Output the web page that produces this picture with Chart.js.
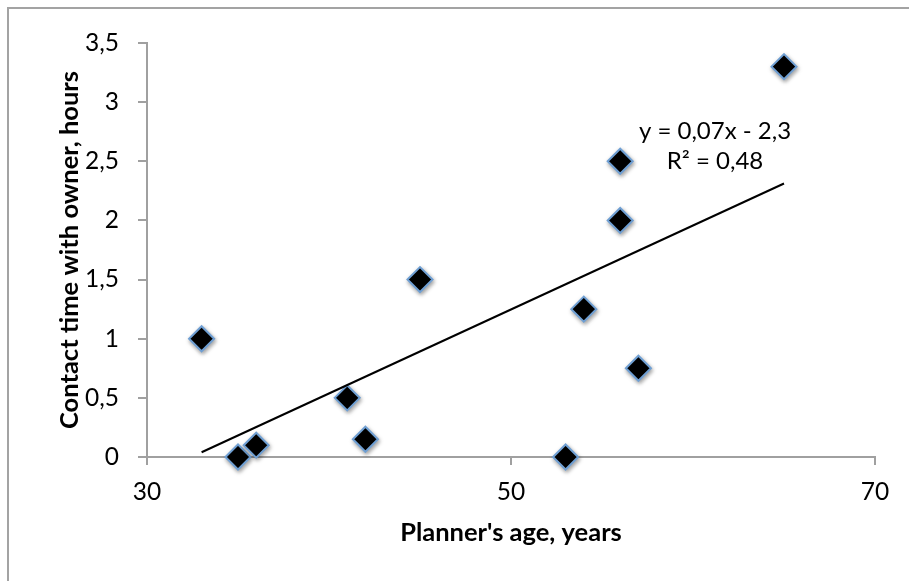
<!DOCTYPE html>
<html>
<head>
<meta charset="utf-8">
<script src="https://cdn.jsdelivr.net/npm/chart.js@4/dist/chart.umd.min.js"></script>
<style>
  html, body { margin: 0; padding: 0; background: #ffffff; }
  #wrap { position: relative; width: 909px; height: 581px; }
</style>
</head>
<body>
<div id="wrap"><canvas id="c" width="909" height="581"></canvas></div>
<script>
// ---- data ----
const ages = [33, 35, 36, 41, 42, 45, 53, 54, 56, 56, 57, 65];
const contactHours = [1.0, 0, 0.1, 0.5, 0.15, 1.5, 0, 1.25, 2.5, 2.0, 0.75, 3.3];
const xTickValues = [30, 50, 70];
const yTickLabels = ['0', '0,5', '1', '1,5', '2', '2,5', '3', '3,5'];
const xTitle = "Planner's age, years";
const yTitle = 'Contact time with owner, hours';
const equationLines = ['y = 0,07x - 2,3', 'R\u00B2 = 0,48'];

// linear trendline (least squares) from the data
const n = ages.length;
const mx = ages.reduce((a, b) => a + b, 0) / n;
const my = contactHours.reduce((a, b) => a + b, 0) / n;
let sxy = 0, sxx = 0;
for (let i = 0; i < n; i++) { sxy += (ages[i] - mx) * (contactHours[i] - my); sxx += (ages[i] - mx) ** 2; }
const slope = sxy / sxx;
const intercept = my - slope * mx;
const xMin = Math.min(...ages), xMax = Math.max(...ages);
const trend = [{ x: xMin, y: slope * xMin + intercept }, { x: xMax, y: slope * xMax + intercept }];

const points = ages.map((a, i) => ({ x: a, y: contactHours[i] }));

const FONT = 'Lato, "Open Sans", sans-serif';
const AXIS_GRAY = '#a0a0a0';

const framePlugin = {
  id: 'frame',
  beforeDraw(chart) {
    const ctx = chart.ctx;
    ctx.save();
    ctx.fillStyle = '#a3a3a3';
    ctx.fillRect(7, 7, chart.width, 2);
    ctx.fillRect(7, 7, 2, chart.height);
    ctx.restore();
  },
  beforeDatasetDraw(chart, args) {
    if (args.index === 1) {
      const ctx = chart.ctx;
      ctx.save();
      ctx.shadowColor = 'rgba(0,0,0,0.35)';
      ctx.shadowBlur = 4;
      ctx.shadowOffsetX = 1;
      ctx.shadowOffsetY = 2;
    }
  },
  afterDatasetDraw(chart, args) {
    if (args.index === 1) chart.ctx.restore();
  },
  afterDraw(chart) {
    const ctx = chart.ctx;
    const a = chart.chartArea;
    ctx.save();
    ctx.fillStyle = '#000';
    ctx.font = '24px ' + FONT;
    ctx.textAlign = 'center';
    ctx.textBaseline = 'middle';
    ctx.fillText(equationLines[0], a.left + 568, a.top + 88);
    ctx.fillText(equationLines[1], a.left + 568, a.top + 118);
    ctx.restore();
  }
};

new Chart(document.getElementById('c'), {
  type: 'scatter',
  data: {
    datasets: [
      {
        type: 'line',
        data: trend,
        borderColor: '#000000',
        borderWidth: 2,
        pointRadius: 0,
        fill: false,
        tension: 0
      },
      {
        data: points,
        clip: false,
        pointStyle: 'rectRot',
        pointRadius: 12.5,
        pointHoverRadius: 12.5,
        backgroundColor: '#000000',
        borderColor: '#6f9fd3',
        borderWidth: 2
      }
    ]
  },
  options: {
    responsive: false,
    animation: false,
    devicePixelRatio: 1,
    layout: { padding: { left: 0, top: 43, right: 34, bottom: 0 } },
    plugins: { legend: { display: false }, tooltip: { enabled: false } },
    scales: {
      x: {
        type: 'linear',
        min: 30, max: 70,
        afterBuildTicks(scale) { scale.ticks = xTickValues.map(v => ({ value: v })); },
        afterFit(scale) { scale.height = 124; },
        grid: { display: true, drawOnChartArea: false, drawTicks: true, tickLength: 8, color: AXIS_GRAY, lineWidth: 2 },
        border: { display: true, color: AXIS_GRAY, width: 2 },
        ticks: { color: '#000', font: { family: FONT, size: 24.5 }, padding: 12, maxRotation: 0 },
        title: { display: true, text: xTitle, color: '#000', font: { family: FONT, size: 25.5, weight: 'bold' }, padding: { top: 0, bottom: 33 } }
      },
      y: {
        type: 'linear',
        min: 0, max: 3.5,
        ticks: {
          stepSize: 0.5,
          color: '#000', font: { family: FONT, size: 24.5 }, padding: 19,
          callback: (v, i) => yTickLabels[i]
        },
        afterFit(scale) { scale.width = 147; },
        grid: { display: true, drawOnChartArea: false, drawTicks: true, tickLength: 9, color: AXIS_GRAY, lineWidth: 2 },
        border: { display: true, color: AXIS_GRAY, width: 2 },
        title: { display: true, text: yTitle, color: '#000', font: { family: FONT, size: 25.5, weight: 'bold' }, padding: { top: 54, bottom: 0 } }
      }
    }
  },
  plugins: [framePlugin]
});
</script>
</body>
</html>
